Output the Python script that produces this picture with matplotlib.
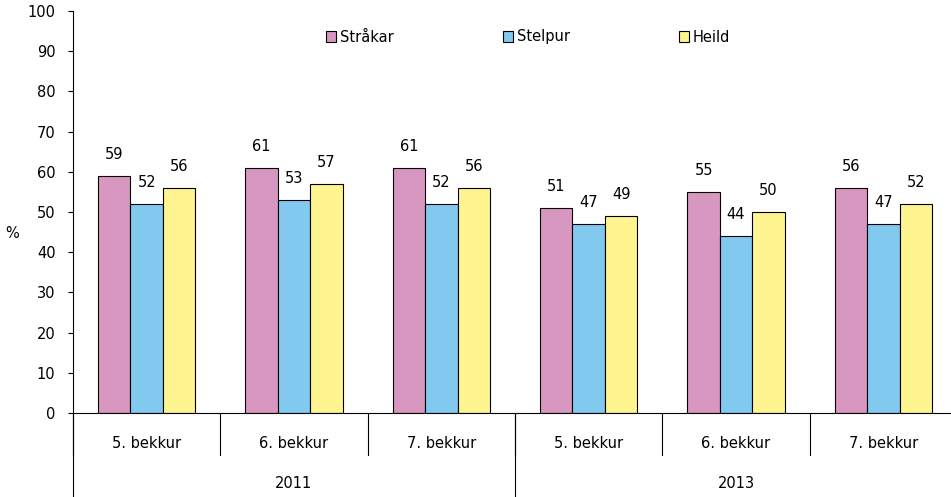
import matplotlib
matplotlib.use("Agg")
import matplotlib.pyplot as plt
from matplotlib.patches import Patch
import matplotlib.transforms as mtransforms

plt.rcParams["font.family"] = ["DejaVu Sans"]

grades = ["5. bekkur", "6. bekkur", "7. bekkur", "5. bekkur", "6. bekkur", "7. bekkur"]
years = ["2011", "2013"]
series_names = ["Stråkar", "Stelpur", "Heild"]
strakar = [59, 61, 61, 51, 55, 56]
stelpur = [52, 53, 52, 47, 44, 47]
heild = [56, 57, 56, 49, 50, 52]
yticks = list(range(0, 101, 10))

COLORS = ["#d897c1", "#82c9f0", "#fff590"]
W, H = 951, 497
AX_L, AX_R, AX_T, AX_B = 73, 957, 11, 413
FS = 10.5


def ypx(y):
    # axes fraction for a pixel row below/above the plot
    return (AX_B - y) / (AX_B - AX_T)


fig = plt.figure(figsize=(W / 100, H / 100), dpi=100)
ax = fig.add_axes([AX_L / W, 1 - AX_B / H, (AX_R - AX_L) / W, (AX_B - AX_T) / H])

bar_w = 0.22
data = [strakar, stelpur, heild]
for k, (vals, color, name) in enumerate(zip(data, COLORS, series_names)):
    xs = [i + 0.5 + (k - 1) * bar_w for i in range(len(vals))]
    ax.bar(xs, vals, width=bar_w, color=color, edgecolor="black", linewidth=0.8, label=name)
    for x, v in zip(xs, vals):
        ax.annotate(str(v), (x, v), xytext=(0, 12), textcoords="offset points",
                    ha="center", va="baseline", fontsize=FS)

ax.set_xlim(0, len(grades))
ax.set_ylim(0, 100)
ax.set_yticks(yticks)
ax.tick_params(axis="y", direction="out", length=3.6, width=0.8, labelsize=FS, pad=9)
ax.set_xticks([])
for side in ("top", "right"):
    ax.spines[side].set_visible(False)
ax.spines["left"].set_linewidth(0.8)
ax.spines["bottom"].set_linewidth(0.8)

trans = mtransforms.blended_transform_factory(ax.transData, ax.transAxes)
for i, g in enumerate(grades):
    ax.text(i + 0.5, ypx(443), g, transform=trans, ha="center", va="center", fontsize=FS)
    ax.plot([i, i], [0, ypx(455)], transform=trans, color="black", lw=0.8, clip_on=False)
for j, y in enumerate(years):
    ax.text(j * 3 + 1.5, ypx(483), y, transform=trans, ha="center", va="center", fontsize=FS)
    ax.plot([j * 3, j * 3], [0, ypx(497)], transform=trans, color="black", lw=0.8, clip_on=False)

fig.text(12 / W, 1 - 233 / H, "%", ha="center", va="center", fontsize=FS)

handles = [Patch(facecolor=c, edgecolor="black", linewidth=0.8) for c in COLORS]
ax.legend(handles, series_names, ncol=3, loc="center left", frameon=False,
          bbox_to_anchor=(326 / W, 1 - 37 / H), bbox_transform=fig.transFigure,
          handlelength=0.7, handleheight=0.7, handletextpad=0.25,
          columnspacing=7.5, fontsize=FS, borderaxespad=0, borderpad=0)

fig.savefig("out.png", dpi=100)
